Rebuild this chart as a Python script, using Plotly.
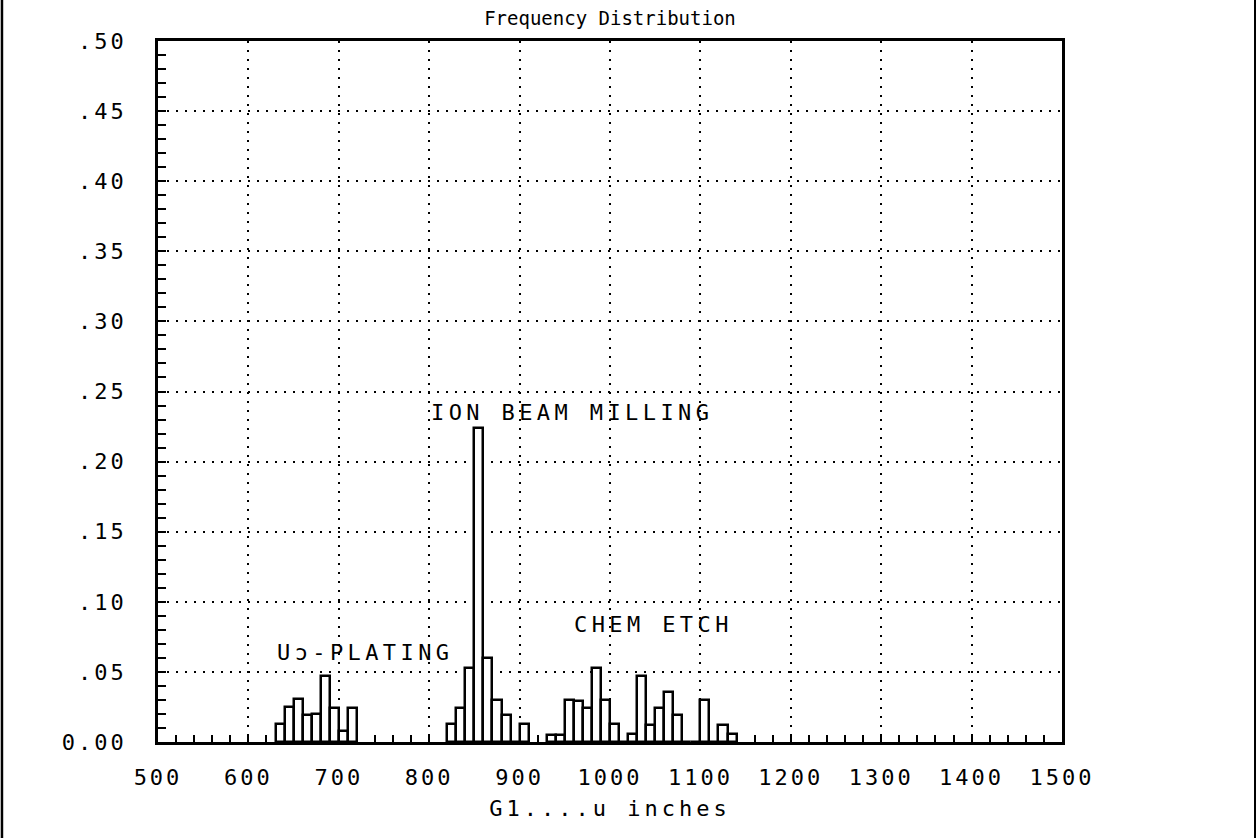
import plotly.graph_objects as go

# ---- data (bin centers, relative frequency) ----
plating_x = [635, 645, 655, 665, 675, 685, 695, 705, 715]
plating_y = [0.013, 0.025, 0.031, 0.019, 0.020, 0.047, 0.024, 0.008, 0.024]

ion_x = [825, 835, 845, 855, 865, 875, 885, 895, 905]
ion_y = [0.013, 0.024, 0.053, 0.224, 0.060, 0.030, 0.019, 0.0, 0.013]

chem_x = [935, 945, 955, 965, 975, 985, 995, 1005, 1015, 1025, 1035, 1045,
          1055, 1065, 1075, 1085, 1095, 1105, 1115, 1125, 1135]
chem_y = [0.005, 0.005, 0.030, 0.029, 0.024, 0.053, 0.030, 0.013, 0.0, 0.006,
          0.047, 0.012, 0.024, 0.036, 0.019, 0.0, 0.0, 0.030, 0.0, 0.012, 0.006]

bin_width = 10

x_ticks = [500, 600, 700, 800, 900, 1000, 1100, 1200, 1300, 1400, 1500]
y_ticks = [0.0, 0.05, 0.10, 0.15, 0.20, 0.25, 0.30, 0.35, 0.40, 0.45, 0.50]
y_ticktext = ["0.00", ".05", ".10", ".15", ".20", ".25", ".30", ".35", ".40", ".45", ".50"]

labels = [
    ("ION BEAM MILLING", 800, 0.235),
    ("CHEM ETCH", 958, 0.0835),
    ("U\u0254-PLATING", 629, 0.0635),
]

FONT = "DejaVu Sans Mono"


def spaced(t, px):
    return f'<span style="letter-spacing:{px}px">{t}</span>'


all_x = plating_x + ion_x + chem_x
all_y = plating_y + ion_y + chem_y

fig = go.Figure()
fig.add_trace(go.Bar(
    x=all_x, y=all_y, width=[bin_width] * len(all_x),
    marker=dict(color="white", line=dict(color="black", width=2.5)),
    showlegend=False, hoverinfo="x+y",
))

grid_dash = "2px,7px"

fig.update_xaxes(
    range=[500, 1500], tickvals=x_ticks,
    ticktext=[spaced(str(v), 3) for v in x_ticks],
    ticks="inside", ticklen=7, tickwidth=1.8, tickcolor="black",
    minor=dict(dtick=20, tick0=500, ticks="inside", ticklen=7, tickwidth=1.8,
               tickcolor="black", showgrid=False),
    showgrid=True, gridcolor="black", gridwidth=2, griddash=grid_dash,
    showline=True, linecolor="black", linewidth=2.5, mirror=True,
    zeroline=False, tickfont=dict(family=FONT, size=22, color="black"),
    ticklabelstandoff=14,
    title=dict(text=spaced("G1....u inches", 4),
               font=dict(family=FONT, size=22, color="black"), standoff=12),
)
fig.update_yaxes(
    range=[0, 0.5], tickvals=y_ticks,
    ticktext=[spaced(t, 3) for t in y_ticktext],
    ticks="inside", ticklen=8, tickwidth=1.8, tickcolor="black",
    minor=dict(dtick=0.01, tick0=0, ticks="inside", ticklen=8, tickwidth=1.8,
               tickcolor="black", showgrid=False),
    showgrid=True, gridcolor="black", gridwidth=2, griddash=grid_dash,
    showline=True, linecolor="black", linewidth=2.5, mirror=True,
    zeroline=False, tickfont=dict(family=FONT, size=22, color="black"),
    ticklabelstandoff=24,
)

for txt, x, y in labels:
    fig.add_annotation(x=x, y=y, text=spaced(txt, 4.4), showarrow=False,
                       xanchor="left", yanchor="middle",
                       font=dict(family=FONT, size=22, color="black"))

# page frame lines (left and right edges of the scanned page)
fig.add_shape(type="line", xref="paper", yref="paper",
              x0=-0.1726, x1=-0.1726, y0=-0.14, y1=1.07,
              line=dict(color="black", width=2.5))
fig.add_shape(type="line", xref="paper", yref="paper",
              x0=1.2135, x1=1.2135, y0=-0.14, y1=1.07,
              line=dict(color="black", width=2))

fig.update_layout(
    width=1258, height=838,
    margin=dict(l=158, r=196, t=41, b=96),
    paper_bgcolor="white", plot_bgcolor="white",
    bargap=0,
    font=dict(family=FONT, color="black"),
    title=dict(text="Frequency Distribution", xref="paper", x=0.5, xanchor="center",
               y=0.978, yanchor="middle",
               font=dict(family=FONT, size=19, color="black")),
)

fig.write_html("out.html", config={"displayModeBar": False},
               post_script="document.body.style.margin='0';document.body.style.overflow='hidden';")
